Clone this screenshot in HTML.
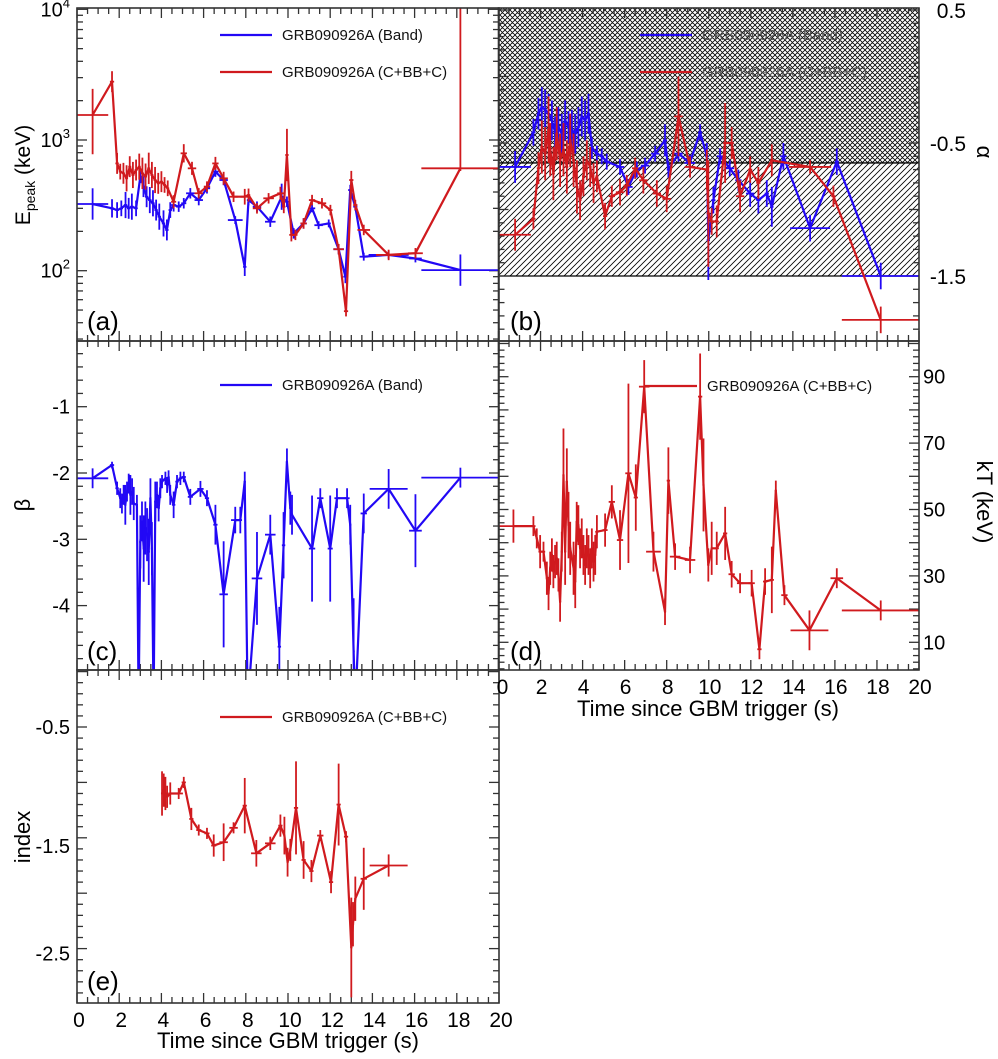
<!DOCTYPE html>
<html><head><meta charset="utf-8">
<style>
html,body{margin:0;padding:0;background:#fff;}
svg{display:block;font-family:"Liberation Sans",sans-serif;}
</style></head>
<body>
<svg id="chart" width="998" height="1059" viewBox="0 0 998 1059" xmlns="http://www.w3.org/2000/svg">
<defs>
<pattern id="cross" patternUnits="userSpaceOnUse" width="5" height="5">
<path d="M0,5 L5,0 M-1,1 L1,-1 M4,6 L6,4 M0,0 L5,5 M-1,4 L1,6 M4,-1 L6,1" stroke="#000" stroke-width="0.8"/>
</pattern>
<pattern id="diag" patternUnits="userSpaceOnUse" width="6" height="6">
<path d="M0,6 L6,0 M-1,1 L1,-1 M5,7 L7,5" stroke="#000" stroke-width="0.8"/>
</pattern>
<clipPath id="clipA"><rect x="77" y="8" width="422" height="333"/></clipPath>
<clipPath id="clipB"><rect x="498.5" y="8" width="420.5" height="333"/></clipPath>
<clipPath id="clipC"><rect x="77" y="341" width="422" height="329"/></clipPath>
<clipPath id="clipD"><rect x="498.5" y="341" width="420.5" height="329"/></clipPath>
<clipPath id="clipE"><rect x="77" y="670" width="422" height="333"/></clipPath>
</defs>
</svg>
<script>
// ---------- Panel (a) Epeak ----------
const aBandT = [0.74,1.66,1.9,2.1,2.3,2.45,2.6,2.8,3.0,3.15,3.3,3.45,3.6,3.75,3.9,4.1,4.26,4.42,4.58,4.82,5.06,5.37,5.77,6.16,6.56,6.95,7.5,7.95,8.13,8.53,9.16,9.7,9.95,10.27,10.74,11.14,11.45,11.93,12.4,12.72,12.95,13.19,13.59,14.77,16.04,18.17];
const aBandE = [324,300,291,300,318,300,309,300,525,440,368,347,328,291,259,230,205,291,318,309,328,391,347,427,573,494,244,107,347,309,237,368,337,193,230,300,223,230,146,90,414,309,128,132,124,101];
const aBandTErr = [0.74,0.1,0.08,0.08,0.08,0.08,0.08,0.08,0.08,0.08,0.08,0.08,0.08,0.08,0.08,0.08,0.08,0.08,0.12,0.12,0.12,0.2,0.2,0.15,0.15,0.2,0.35,0.08,0.08,0.2,0.25,0.1,0.1,0.1,0.15,0.15,0.2,0.1,0.25,0.1,0.1,0.1,0.2,0.95,0.3,1.85];
const aBandDex = [0.12,0.07,0.06,0.06,0.1,0.08,0.1,0.06,0.05,0.08,0.08,0.1,0.1,0.08,0.1,0.1,0.08,0.06,0.05,0.04,0.04,0.04,0.04,0.04,0.04,0.04,0.03,0.07,0.04,0.04,0.04,0.1,0.04,0.04,0.04,0.03,0.03,0.03,0.04,0.05,0.04,0.03,0.03,0.03,0.03,0.12];
const aCbbT = [0.74,1.66,1.9,2.05,2.2,2.35,2.5,2.65,2.8,2.95,3.1,3.25,3.4,3.55,3.7,3.85,4.0,4.15,4.3,4.58,5.06,5.45,5.77,6.16,6.56,6.95,7.42,7.95,8.13,8.53,9.08,9.64,9.8,9.95,10.16,10.35,10.74,11.14,11.61,12.01,12.4,12.75,13.0,13.19,13.59,14.77,16.04,18.17];
const aCbbE = [1553,2795,662,573,556,509,625,540,589,625,556,525,607,540,494,466,480,453,427,337,791,607,391,440,662,509,368,368,379,300,358,391,309,768,188,188,230,347,328,291,146,49,494,318,205,132,136,607];
const aCbbTErr = [0.74,0.1,0.08,0.07,0.07,0.07,0.07,0.07,0.07,0.07,0.07,0.07,0.07,0.07,0.07,0.07,0.07,0.07,0.07,0.12,0.15,0.2,0.2,0.15,0.15,0.2,0.2,0.2,0.08,0.2,0.25,0.15,0.08,0.08,0.1,0.1,0.15,0.15,0.2,0.1,0.25,0.1,0.1,0.1,0.3,0.6,0.35,1.85];
const aCbbDexUp = [0.2,0.08,0.08,0.06,0.08,0.1,0.08,0.1,0.08,0.1,0.12,0.1,0.12,0.1,0.1,0.08,0.08,0.06,0.06,0.05,0.07,0.05,0.04,0.04,0.05,0.05,0.04,0.06,0.05,0.04,0.04,0.05,0.05,0.2,0.05,0.04,0.04,0.04,0.04,0.04,0.04,0.04,0.07,0.04,0.04,0.04,0.04,1.3];
const aCbbDexDn = [0.3,0.08,0.08,0.06,0.08,0.1,0.08,0.1,0.08,0.1,0.12,0.1,0.12,0.1,0.1,0.08,0.08,0.06,0.06,0.05,0.07,0.05,0.04,0.04,0.05,0.05,0.04,0.06,0.05,0.04,0.04,0.05,0.05,0.2,0.05,0.04,0.04,0.04,0.04,0.04,0.04,0.04,0.07,0.04,0.04,0.04,0.04,0.02];
const aTickLabels = ["102","103","104"];
// ---------- Panel (b) alpha ----------
const bBandT = [0.79,1.66,1.9,2.06,2.22,2.38,2.54,2.69,2.85,3.01,3.17,3.33,3.49,3.65,3.8,3.96,4.12,4.28,4.44,4.68,4.91,5.15,5.78,6.18,6.58,6.97,7.45,7.92,8.08,8.56,9.1,9.59,9.91,9.98,10.22,10.54,11.0,11.41,11.97,12.36,12.76,13.0,13.55,14.82,16.09,18.18];
const bBandA = [-0.68,-0.42,-0.28,-0.23,-0.25,-0.28,-0.33,-0.42,-0.38,-0.43,-0.33,-0.38,-0.40,-0.43,-0.38,-0.30,-0.33,-0.28,-0.54,-0.58,-0.60,-0.64,-0.68,-0.83,-0.70,-0.67,-0.58,-0.48,-0.70,-0.58,-0.65,-0.42,-0.60,-1.23,-0.93,-0.60,-0.69,-0.78,-0.88,-0.93,-0.88,-0.98,-0.60,-1.14,-0.64,-1.50];
const bBandTErr = [0.75,0.1,0.08,0.07,0.07,0.07,0.07,0.07,0.07,0.07,0.07,0.07,0.07,0.07,0.07,0.07,0.07,0.07,0.1,0.1,0.1,0.15,0.2,0.2,0.15,0.2,0.2,0.1,0.08,0.2,0.25,0.1,0.08,0.08,0.1,0.15,0.2,0.15,0.2,0.1,0.1,0.08,0.15,0.95,0.1,1.85];
const bBandAErr = [0.12,0.1,0.12,0.15,0.15,0.15,0.15,0.12,0.15,0.15,0.15,0.12,0.15,0.15,0.15,0.15,0.15,0.15,0.08,0.06,0.06,0.06,0.06,0.06,0.06,0.06,0.06,0.12,0.06,0.06,0.06,0.06,0.1,0.3,0.1,0.06,0.06,0.08,0.1,0.1,0.1,0.15,0.1,0.1,0.1,0.1];
const bCbbT = [0.79,1.66,1.9,2.06,2.22,2.38,2.46,2.61,2.77,2.93,3.09,3.25,3.41,3.57,3.73,3.88,4.04,4.2,4.36,4.52,4.68,5.07,5.39,5.78,6.1,6.5,6.89,7.53,8.0,8.56,9.11,9.91,9.98,10.14,10.38,10.78,11.09,11.49,11.97,12.36,13.0,14.82,15.93,18.18];
const bCbbA = [-1.19,-1.07,-0.69,-0.53,-0.58,-0.40,-0.55,-0.73,-0.43,-0.63,-0.55,-0.68,-0.48,-0.63,-0.83,-0.93,-0.75,-0.63,-0.68,-0.80,-0.75,-1.05,-0.90,-0.87,-0.82,-0.69,-0.78,-0.88,-0.92,-0.30,-0.68,-0.70,-1.03,-1.09,-1.09,-0.50,-0.50,-0.90,-0.70,-0.80,-0.63,-0.68,-0.90,-1.83];
const bCbbTErr = [0.75,0.1,0.08,0.07,0.07,0.07,0.07,0.07,0.07,0.07,0.07,0.07,0.07,0.07,0.07,0.07,0.07,0.07,0.07,0.07,0.07,0.1,0.15,0.2,0.15,0.15,0.2,0.2,0.2,0.2,0.25,0.08,0.08,0.1,0.1,0.1,0.1,0.2,0.1,0.1,0.08,1.0,0.1,1.85];
const bCbbAErr = [0.12,0.08,0.12,0.2,0.2,0.25,0.2,0.2,0.2,0.2,0.2,0.2,0.2,0.2,0.2,0.15,0.15,0.15,0.15,0.15,0.12,0.1,0.08,0.1,0.08,0.08,0.1,0.1,0.1,0.3,0.08,0.15,0.4,0.1,0.12,0.3,0.12,0.12,0.1,0.12,0.12,0.05,0.08,0.1];
const bTickLabels = ["-1.5","-0.5","0.5"];
// ---------- Panel (c) beta ----------
const cBandT = [0.74,1.66,1.9,2.05,2.13,2.21,2.29,2.37,2.45,2.53,2.61,2.69,2.84,2.92,3.0,3.08,3.16,3.24,3.32,3.4,3.48,3.55,3.63,3.71,3.79,3.87,3.95,4.03,4.19,4.27,4.34,4.42,4.58,4.74,4.9,5.06,5.37,5.85,6.16,6.56,6.95,7.5,7.74,7.95,8.09,8.53,9.16,9.59,9.79,9.95,10.11,10.19,11.14,11.53,12.0,12.32,12.8,12.95,13.11,13.19,13.59,14.77,16.04,18.17];
const cBandB = [-2.08,-1.88,-2.23,-2.38,-2.46,-2.33,-2.48,-2.28,-2.16,-2.33,-2.28,-2.46,-2.48,-5.5,-3.04,-2.73,-3.14,-2.83,-2.93,-3.19,-2.38,-3.14,-5.5,-2.43,-2.33,-2.53,-2.23,-2.13,-2.08,-2.18,-2.06,-2.33,-2.48,-2.13,-2.08,-2.06,-2.36,-2.24,-2.38,-2.78,-3.83,-2.71,-2.71,-2.13,-5.5,-3.59,-2.93,-4.62,-3.09,-1.83,-2.53,-2.63,-3.14,-2.38,-3.14,-2.38,-2.38,-2.78,-4.69,-5.5,-2.61,-2.24,-2.87,-2.07];
const cBandTErr = [0.74,0.1,0.08,0.05,0.05,0.05,0.05,0.05,0.05,0.05,0.05,0.05,0.05,0.05,0.05,0.05,0.05,0.05,0.05,0.05,0.05,0.05,0.05,0.05,0.05,0.05,0.05,0.05,0.05,0.05,0.05,0.05,0.08,0.08,0.08,0.1,0.12,0.15,0.1,0.1,0.2,0.2,0.08,0.05,0.05,0.25,0.25,0.08,0.08,0.05,0.05,0.05,0.15,0.15,0.12,0.12,0.12,0.05,0.05,0.05,0.15,0.9,0.3,1.85];
const cBandBErr = [0.15,0.05,0.1,0.15,0.15,0.15,0.3,0.15,0.15,0.3,0.2,0.25,0.15,0.5,0.4,0.3,0.5,0.4,0.4,0.5,0.3,0.4,0.5,0.3,0.2,0.2,0.15,0.1,0.1,0.12,0.1,0.15,0.2,0.1,0.1,0.08,0.12,0.12,0.12,0.3,0.8,0.2,0.2,0.15,0.5,0.7,0.3,0.6,0.5,0.2,0.25,0.3,0.8,0.15,0.8,0.15,0.15,0.3,0.8,0.5,0.3,0.3,0.55,0.15];
const cTickLabels = ["-4","-3","-2","-1"];
// ---------- Panel (d) kT ----------
const dCbbT = [0.71,1.66,1.82,1.98,2.14,2.3,2.38,2.46,2.54,2.61,2.69,2.77,2.85,2.93,3.01,3.09,3.17,3.25,3.33,3.41,3.57,3.65,3.72,3.8,3.88,3.96,4.04,4.12,4.2,4.28,4.36,4.44,4.52,4.6,4.68,5.07,5.39,5.78,6.18,6.53,6.93,7.37,7.92,8.08,8.4,9.11,9.59,9.75,9.98,10.14,10.38,10.78,11.09,11.49,12.04,12.41,12.68,13.0,13.19,13.6,14.79,16.09,18.18];
const dCbbKT = [45.0,45.0,41.3,37.3,37.3,29.3,24.7,32.3,36.3,31.3,34.3,35.3,30.3,22.2,37.3,60.4,37.3,58.4,45.3,38.3,32.3,28.3,46.3,45.3,38.3,41.3,36.3,33.3,38.3,36.3,32.3,38.3,34.3,36.3,43.3,43.8,52.3,40.8,60.9,53.6,87.0,37.3,19.2,58.7,35.8,34.8,84.0,57.4,33.3,38.3,38.3,42.8,30.5,27.8,27.8,7.9,28.3,28.8,55.7,24.2,13.6,29.3,19.6];
const dCbbTErr = [0.71,0.1,0.05,0.08,0.08,0.05,0.05,0.05,0.05,0.05,0.05,0.05,0.05,0.05,0.05,0.05,0.05,0.05,0.05,0.05,0.05,0.05,0.05,0.05,0.05,0.05,0.05,0.05,0.05,0.05,0.05,0.05,0.05,0.05,0.08,0.12,0.15,0.15,0.15,0.1,0.25,0.35,0.05,0.08,0.25,0.25,0.1,0.05,0.05,0.05,0.1,0.1,0.15,0.15,0.15,0.1,0.1,0.1,0.05,0.15,0.9,0.3,1.85];
const dCbbKTErr = [5,3,3,5,3,5,5,5,5,5,5,5,5,6,6,14,10,10,10,8,8,8,6,6,6,6,6,6,6,6,6,6,6,6,5,5,5,9,27,10,8,6,4,10,4,4,13,14,5,8,5,8,4,3,4,3,4,10,3,3,6,3,3];
const dTickLabels = ["10","30","50","70","90"];
// ---------- Panel (e) index ----------
const eCbbT = [4.03,4.11,4.19,4.27,4.42,4.82,5.06,5.42,5.77,6.16,6.48,6.95,7.42,7.95,8.5,9.16,9.64,9.83,9.98,10.11,10.38,10.74,11.11,11.53,12.04,12.4,12.75,13.0,13.08,13.19,13.59,14.77];
const eCbbIdx = [-1.1,-1.07,-1.1,-1.13,-1.1,-1.1,-1.0,-1.33,-1.43,-1.46,-1.57,-1.54,-1.41,-1.21,-1.64,-1.55,-1.39,-1.48,-1.72,-1.61,-1.23,-1.7,-1.8,-1.48,-1.9,-1.2,-1.49,-2.49,-2.28,-2.05,-1.87,-1.75];
const eCbbTErr = [0.05,0.05,0.05,0.05,0.1,0.2,0.1,0.1,0.12,0.12,0.12,0.2,0.2,0.1,0.25,0.25,0.1,0.05,0.05,0.05,0.1,0.1,0.1,0.15,0.1,0.1,0.1,0.05,0.05,0.05,0.15,0.9];
const eCbbIdxErr = [0.2,0.15,0.15,0.1,0.1,0.05,0.05,0.1,0.05,0.05,0.1,0.17,0.05,0.25,0.12,0.06,0.1,0.17,0.13,0.1,0.42,0.17,0.1,0.05,0.1,0.37,0.05,0.45,0.2,0.2,0.28,0.1];
const eTickLabels = ["-2.5","-1.5","-0.5"];
const xTickLabels = ["0","2","4","6","8","10","12","14","16","18","20"];

const NS = "http://www.w3.org/2000/svg";
const svg = document.getElementById("chart");
const BLUE = "#2208f5", RED = "#d01a1e";
function mk(tag, attrs, parent){ const e=document.createElementNS(NS,tag); for(const k in attrs) e.setAttribute(k,attrs[k]); (parent||svg).appendChild(e); return e; }

// axis functions
const xL = t => 77 + t*21.1;
const xR = t => 498.5 + t*21.025;
const yA = v => 140 - (Math.log10(v)-3)*130.7;
const yB = v => 10 + (0.5 - v)*133;
const yC = v => 406.7 + (-1 - v)*66.3;
const yD = v => 376.7 - (v - 90)*3.32;
const yE = v => 727 - (v + 0.5)*110.8;

function frame(name,x0,y0,x1,y1){
  const r=mk("rect",{x:x0,y:y0,width:x1-x0,height:y1-y0,fill:"none",stroke:"#333","stroke-width":1.6});
  
  
}
function xticks(x,y0,y1){
  const g=mk("g",{stroke:"#333","stroke-width":1.3});
  
  
  for(let i=0;i<=40;i++){ const t=i*0.5, len=(i%4===0)?10:6, xx=x(t);
    mk("line",{x1:xx,x2:xx,y1:y0,y2:y0+len},g); mk("line",{x1:xx,x2:xx,y1:y1,y2:y1-len},g); }
}
function yticks(list,majorFn,x0,x1){
  const g=mk("g",{stroke:"#333","stroke-width":1.3});
  
  
  list.forEach(([yy,maj])=>{ const len=maj?10:6;
    mk("line",{x1:x0,x2:x0+len,y1:yy,y2:yy},g); mk("line",{x1:x1,x2:x1-len,y1:yy,y2:yy},g); });
}
function text(str,x,y,opts,name){
  const t=mk("text",Object.assign({x:x,y:y,"font-size":20,fill:"#000"},opts||{}));
  t.textContent=str;
  
  
  return t;
}
function series(name,clip,xs,ys,xe,lo,hi,xf,yf,color){
  const g=mk("g",{"clip-path":"url(#"+clip+")",stroke:color,fill:"none"});
  
  
  const pts=xs.map((t,i)=>xf(t).toFixed(1)+","+yf(ys[i]).toFixed(1)).join(" ");
  const pl=mk("polyline",{points:pts,"stroke-width":2.2,"stroke-linejoin":"round"},g);
  
  
  xs.forEach((t,i)=>{
    const yy=yf(ys[i]);
    const h=mk("line",{x1:xf(t-xe[i]),x2:xf(t+xe[i]),y1:yy,y2:yy,"stroke-width":1.8},g);
    
    
    const v=mk("line",{x1:xf(t),x2:xf(t),y1:yf(lo[i]),y2:yf(hi[i]),"stroke-width":1.8},g);
    
    
  });
}
function legend(x,y,color,label,grey){
  const l=mk("line",{x1:x,x2:x+52,y1:y,y2:y,stroke:color,"stroke-width":2.2});
  
  
  text(label,x+62,y+5,{"font-size":15,fill:grey?"#555":"#111"},'legend-entry');
}

// ===== Panel b hatch =====
const hatchTop=mk("rect",{x:498.5,y:8,width:420.5,height:yB(-0.65)-8,fill:"url(#cross)"});


const hatchMid=mk("rect",{x:498.5,y:yB(-0.65),width:420.5,height:yB(-1.5)-yB(-0.65),fill:"url(#diag)"});


[-0.65,-1.5].forEach(v=>{ const l=mk("line",{x1:498.5,x2:919,y1:yB(v),y2:yB(v),stroke:"#000","stroke-width":1.3});
    });

// ===== Ticks =====
xticks(xL,8,341);
let la=[]; for(let d=1;d<4;d++){ for(let m=1;m<10;m++){ const v=m*Math.pow(10,d); if(yA(v)>=8&&yA(v)<=341) la.push([yA(v),m===1]); } } la.push([yA(10000),true]);
yticks(la,null,77,499);
xticks(xR,8,341);
let lb=[]; for(let k=-20;k<=5;k++){ const v=k/10, yy=yB(v); if(yy>=8&&yy<=341) lb.push([yy,(k%5===0)]); } yticks(lb,null,498.5,919);
xticks(xL,341,670);
let lc=[]; for(let k=-25;k<=0;k++){ const v=k/5, yy=yC(v); if(yy>=341&&yy<=670) lc.push([yy,(k%5===0)]); } yticks(lc,null,77,499);
xticks(xR,341,670);
let ld=[]; for(let k=0;k<=50;k++){ const v=k*2, yy=yD(v); if(yy>=341&&yy<=670) ld.push([yy,(k%5===0)]); } yticks(ld,null,498.5,919);
xticks(xL,670,1003);
let le=[]; for(let k=-30;k<=0;k++){ const v=k/10, yy=yE(v); if(yy>=670&&yy<=1003) le.push([yy,(k%5===0)]); } yticks(le,null,77,499);

// ===== Series =====
series("band-epeak","clipA",aBandT,aBandE,aBandTErr,aBandE.map((v,i)=>v/Math.pow(10,aBandDex[i])),aBandE.map((v,i)=>v*Math.pow(10,aBandDex[i])),xL,yA,BLUE);
series("cbb-epeak","clipA",aCbbT,aCbbE,aCbbTErr,aCbbE.map((v,i)=>v/Math.pow(10,aCbbDexDn[i])),aCbbE.map((v,i)=>v*Math.pow(10,aCbbDexUp[i])),xL,yA,RED);
series("band-alpha","clipB",bBandT,bBandA,bBandTErr,bBandA.map((v,i)=>v-bBandAErr[i]),bBandA.map((v,i)=>v+bBandAErr[i]),xR,yB,BLUE);
series("cbb-alpha","clipB",bCbbT,bCbbA,bCbbTErr,bCbbA.map((v,i)=>v-bCbbAErr[i]),bCbbA.map((v,i)=>v+bCbbAErr[i]),xR,yB,RED);
series("band-beta","clipC",cBandT,cBandB,cBandTErr,cBandB.map((v,i)=>v-cBandBErr[i]),cBandB.map((v,i)=>v+cBandBErr[i]),xL,yC,BLUE);
series("cbb-kt","clipD",dCbbT,dCbbKT,dCbbTErr,dCbbKT.map((v,i)=>v-dCbbKTErr[i]),dCbbKT.map((v,i)=>v+dCbbKTErr[i]),xR,yD,RED);
series("cbb-index","clipE",eCbbT,eCbbIdx,eCbbTErr,eCbbIdx.map((v,i)=>v-eCbbIdxErr[i]),eCbbIdx.map((v,i)=>v+eCbbIdxErr[i]),xL,yE,RED);

// ===== Frames =====
frame("panel-a-frame",77,8,499,341);
frame("panel-b-frame",498.5,8,919,341);
frame("panel-c-frame",77,341,499,670);
frame("panel-d-frame",498.5,341,919,670);
frame("panel-e-frame",77,670,499,1003);

// ===== Tick labels =====
[100,1000,10000].forEach((v,i)=>{ const s=aTickLabels[i];
  const t=text("10",70,yA(v)+7,{"text-anchor":"end","font-size":20},'y-tick-label-a');
  const sup=document.createElementNS(NS,"tspan"); sup.setAttribute("dy","-9"); sup.setAttribute("font-size","13"); sup.textContent=s.slice(2); t.appendChild(sup);
});
[-1.5,-0.5,0.5].forEach((v,i)=>text(bTickLabels[i],966,yB(v)+8,{"text-anchor":"end","font-size":21},'y-tick-label-b'));
[-4,-3,-2,-1].forEach((v,i)=>text(cTickLabels[i],70,yC(v)+7,{"text-anchor":"end","font-size":20},'y-tick-label-c'));
[10,30,50,70,90].forEach((v,i)=>text(dTickLabels[i],923,yD(v)+7,{"font-size":20},'y-tick-label-d'));
const eLabelShift=[5,8,0];
[-2.5,-1.5,-0.5].forEach((v,i)=>text(eTickLabels[i],70,yE(v)+7+eLabelShift[i],{"text-anchor":"end","font-size":20},'y-tick-label-e'));
xTickLabels.forEach((s,i)=>{ text(s,xL(i*2)+2,1027,{"text-anchor":"middle","font-size":21},'x-tick-label-e');
  text(s,xR(i*2)+(i===0?4:1),694,{"text-anchor":"middle","font-size":21},'x-tick-label-d'); });

// ===== Axis titles =====
const ep=text("E",0,0,{"font-size":21,transform:"translate(30,175) rotate(-90)","text-anchor":"middle"},'y-axis-title-epeak');
const sub=document.createElementNS(NS,"tspan"); sub.setAttribute("dy","5"); sub.setAttribute("font-size","14"); sub.textContent="peak"; ep.appendChild(sub);
const rest=document.createElementNS(NS,"tspan"); rest.setAttribute("dy","-5"); rest.textContent=" (keV)"; ep.appendChild(rest);
text("β",0,0,{"font-size":22,transform:"translate(30,505) rotate(-90)","text-anchor":"middle"},'y-axis-title-beta');
text("index",0,0,{"font-size":22,transform:"translate(30,837) rotate(-90)","text-anchor":"middle"},'y-axis-title-index');
text("α",0,0,{"font-size":22,transform:"translate(977,152) rotate(90)","text-anchor":"middle"},'y-axis-title-alpha');
text("kT (keV)",0,0,{"font-size":22,transform:"translate(977,502) rotate(90)","text-anchor":"middle"},'y-axis-title-kt');
text("Time since GBM trigger (s)",288,1048,{"font-size":22,"text-anchor":"middle"},'x-axis-title-left');
text("Time since GBM trigger (s)",708,716,{"font-size":22,"text-anchor":"middle"},'x-axis-title-right');

// ===== Panel letters =====
text("(a)",87,330,{"font-size":26},'panel-label-a');
text("(b)",510,330,{"font-size":26},'panel-label-b');
text("(c)",87,660,{"font-size":26},'panel-label-c');
text("(d)",510,660,{"font-size":26},'panel-label-d');
text("(e)",87,990,{"font-size":26},'panel-label-e');

// ===== Legends =====
legend(220,35,BLUE,"GRB090926A (Band)");
legend(220,72,RED,"GRB090926A (C+BB+C)");
legend(640,35,BLUE,"GRB090926A (Band)",true);
legend(640,72,RED,"GRB090926A (C+BB+C)",true);
legend(220,385,BLUE,"GRB090926A (Band)");
legend(645,386,RED,"GRB090926A (C+BB+C)");
legend(220,717,RED,"GRB090926A (C+BB+C)");
</script>
</body></html>
